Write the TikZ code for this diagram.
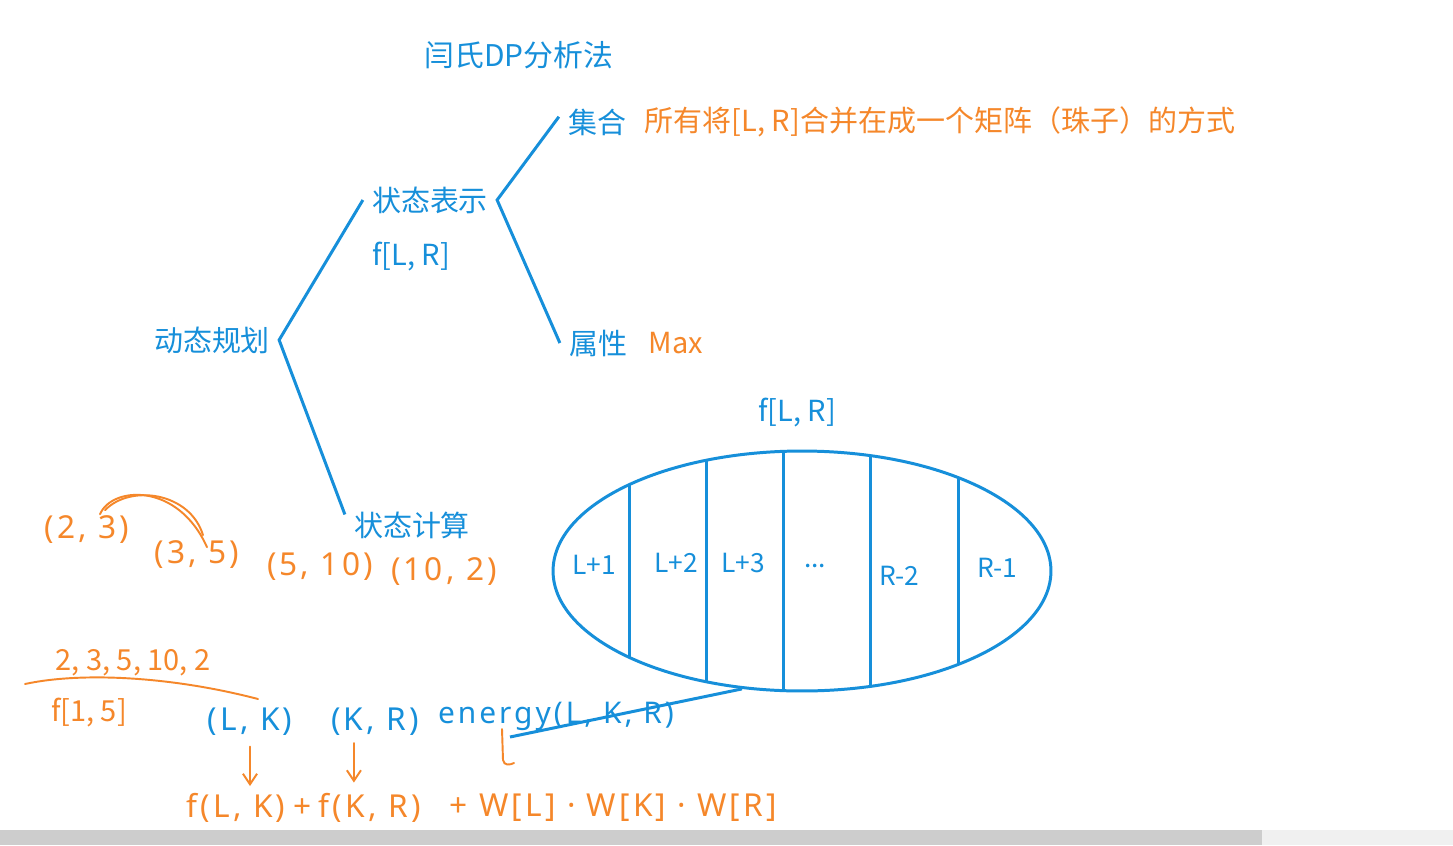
\documentclass[tikz,border=0pt]{standalone}
\usepackage{fontspec}
\setmainfont{Noto Sans CJK SC}
\newfontfamily\handfont[LetterSpace=10]{Noto Sans}
\usetikzlibrary{arrows.meta, positioning, calc, shapes.geometric}

\definecolor{inkblue}{RGB}{22,143,218}
\definecolor{inkorange}{RGB}{245,135,42}
\definecolor{barbg}{RGB}{205,205,205}
\definecolor{barend}{RGB}{240,240,240}

\begin{document}
\begin{tikzpicture}[
    x=0.02cm, y=-0.02cm,
    branch/.style={draw=inkblue, line width=1.7pt},
    bluetext/.style={font=\fontsize{16.5}{18}\selectfont, text=inkblue, inner sep=2pt},
    orangetext/.style={font=\fontsize{16.5}{18}\selectfont, text=inkorange, inner sep=2pt},
    cell/.style={font=\fontsize{15}{16}\selectfont, text=inkblue, inner sep=1pt},
    handblue/.style={font=\handfont\fontsize{18}{20}\selectfont, text=inkblue, inner sep=2pt},
    handorange/.style={font=\handfont\fontsize{18}{20}\selectfont, text=inkorange, inner sep=2pt},
    handline/.style={draw=inkorange, line width=1.1pt, line cap=round},
    handarrow/.style={handline, -{Straight Barb[length=6pt, width=8pt]}},
]

% ===================== CANVAS =====================
\fill[white] (0,0) rectangle (1453,845);
\useasboundingbox (0,0) rectangle (1453,845);

% ===================== TITLE =====================
\node[bluetext, font=\fontsize{17}{19}\selectfont] (title) at (519,55) {闫氏DP分析法};

% ===================== TREE =====================
\node[bluetext] (root) at (212,340) {动态规划};
\node[bluetext] (rep)  at (430,200) {状态表示};
\node[bluetext] (frep) at (411,257) {f[L, R]};
\node[bluetext] (calc) at (412,525) {状态计算};

\node[bluetext] (set)  at (597,122) {集合};
\node[orangetext, anchor=west] (setdesc) at (641,122)
    {所有将[L, R]合并在成一个矩阵（珠子）的方式};
\node[bluetext] (attr) at (598,343) {属性};
\node[orangetext, anchor=west] (maxv) at (645,343) {Max};

% brackets
\draw[branch] ([xshift=-3pt]rep.west) -- ([xshift=3pt]root.east)
    -- ([xshift=-3pt, yshift=6pt]calc.west);
\draw[branch] ([xshift=-3pt, yshift=3pt]set.west) -- ([xshift=3pt]rep.east)
    -- ([xshift=-3pt]attr.west);

% ===================== BEADS ELLIPSE =====================
\node[draw=inkblue, line width=1.7pt, ellipse, inner sep=0pt,
      minimum width=9.96cm, minimum height=4.8cm] (bead) at (802,571) {};
\node[bluetext] (fLR) at (797,413) {f[L, R]};

\begin{scope}
    \clip (802,571) ellipse [x radius=4.98cm, y radius=2.4cm];
    \foreach \x in {629,706,783,870,958} {
        \draw[branch] (\x,440) -- (\x,700);
    }
\end{scope}

\node[cell] (c1) at (594,565) {L+1};
\node[cell] (c2) at (676,563) {L+2};
\node[cell] (c3) at (743,563) {L+3};
\node[cell] (c4) at (815,566) {...};
\node[cell] (c5) at (899,576) {R-2};
\node[cell] (c6) at (997,568) {R-1};

% ===================== EXAMPLE (orange notes) =====================
\node[handorange] (p23)  at (87,530)  {(2, 3)};
\node[handorange] (p35)  at (197,555) {(3, 5)};
\node[handorange] (p510) at (320,567) {(5, 10)};
\node[handorange] (p102) at (444,572) {(10, 2)};

% merge arc
\draw[handline] ($(p23.north)+(13,2)$) .. controls (112,486) and (178,482) ..
    ($(p35.north)+(10,10)$);
\draw[handline] ($(p23.north)+(18,-2)$) .. controls (130,484) and (190,492) ..
    ($(p35.north)+(6,-2)$);

\node[orangetext] (seq) at (133,663) {2, 3, 5, 10, 2};
\node[orangetext] (f15) at (89,713) {f[1, 5]};
\draw[handline] (25,684) .. controls (80,672) and (170,676) .. (258,699);

% ===================== SPLIT =====================
\node[handblue] (LK) at (250,722) {(L, K)};
\node[handblue] (KR) at (375,722) {(K, R)};
\node[handblue, font=\handfont\fontsize{17}{20}\selectfont] (energy) at (556,716) {energy(L, K, R)};

\coordinate (ptr) at (510,737);
\draw[branch] (bead.243) -- (ptr);

\node[handorange, anchor=west] (fLK) at (183,808) {f(L, K)};
\node[handorange, right=0pt of fLK] (plusA) {+};
\node[handorange, right=0pt of plusA] (fKR) {f(K, R)};
\node[handorange, anchor=west] (wprod) at (446,808) {+ W[L] · W[K] · W[R]};

\draw[handarrow] ([yshift=-4pt]LK.south) -- ([yshift=2pt]LK.south |- fLK.north);
\draw[handarrow] ([xshift=-12pt, yshift=-2pt]KR.south) -- ([xshift=-12pt, yshift=4pt]KR.south |- fKR.north);
\draw[handline] (502,729) -- (503,760) .. controls (504,766) and (510,765) .. (514,763);

% ===================== SCROLLBAR =====================
\fill[barbg] (0,830) rectangle (1262,845);
\fill[barend] (1262,830) rectangle (1453,845);

\end{tikzpicture}
\end{document}
